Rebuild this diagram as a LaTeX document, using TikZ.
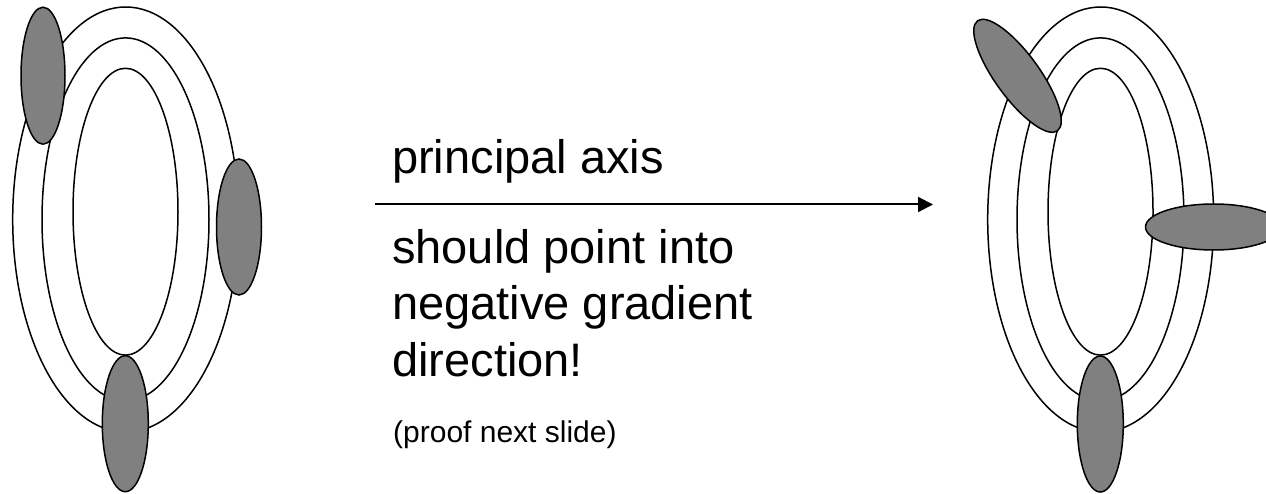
\documentclass[tikz,border=0pt]{standalone}
\usepackage{fontspec}
\setmainfont{Liberation Sans}
\usetikzlibrary{arrows.meta}
\definecolor{ink}{HTML}{000000}
\definecolor{blob}{HTML}{808080}
\tikzset{
  ring/.style={draw=ink, line width=1.5pt},
  blobfill/.style={draw=ink, fill=blob, line width=1.5pt},
  axisarrow/.style={-{Triangle[length=15pt,width=15pt]}, draw=ink,
    line width=2pt},
  bigtext/.style={anchor=base west, inner sep=0pt, align=left,
    font=\fontsize{47}{56.5}\selectfont},
  smalltext/.style={anchor=base west, inner sep=0pt,
    font=\fontsize{30}{36}\selectfont}
}
\begin{document}
\begin{tikzpicture}[x=1pt,y=1pt]
\useasboundingbox (0,0) rectangle (1266,493);
\clip (0,0) rectangle (1266,493);

% Level sets: the same three rings on both sides.
\foreach \dx in {0,975} {
  \draw[ring] (125.5+\dx,281.3) ellipse [x radius=52.5, y radius=143.4];
  \draw[ring] (125.5+\dx,273.6) ellipse [x radius=83.5, y radius=181.5];
  \draw[ring] (125.7+\dx,273.5) ellipse [x radius=113, y radius=212.5];
}

% Left: every sample ellipse stays upright.
\draw[blobfill] (43,417.3) ellipse [x radius=22, y radius=68.5];
\draw[blobfill] (239,266) ellipse [x radius=22.5, y radius=68];
\draw[blobfill] (125.3,69.3) ellipse [x radius=23, y radius=68];

% Right: principal axes turned along the rings' normals.
\draw[blobfill, rotate around={36:(1017.5,417.2)}]
  (1017.5,417.2) ellipse [x radius=22, y radius=68];
\draw[blobfill] (1213.5,266) ellipse [x radius=68, y radius=23];
\draw[blobfill] (1100.3,69) ellipse [x radius=23, y radius=68];

% Middle arrow with its texts.
\coordinate (axisfrom) at (375,288.5);
\coordinate (axisto) at (933,288.5);
\draw[axisarrow] (axisfrom) -- (axisto);

\node[bigtext] (axislabel) at (392,319) {principal axis};
% base of a multi-line node sits on its last line
\node[bigtext] (claim) at (392,117)
  {should point into\\negative gradient\\direction!};
\node[smalltext] (proof) at (393,51) {(proof next slide)};

\end{tikzpicture}
\end{document}
